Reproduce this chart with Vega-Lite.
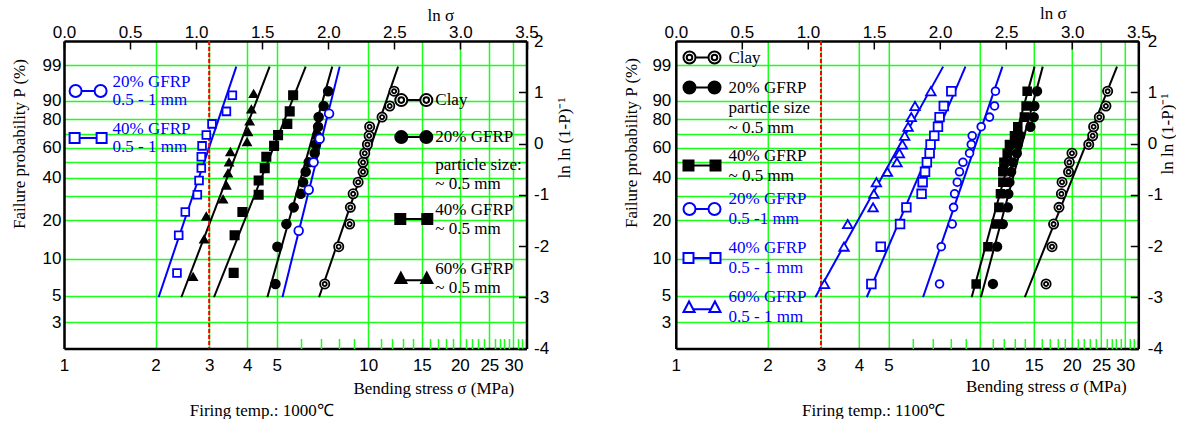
{
"$schema": "https://vega.github.io/schema/vega-lite/v6.json",
"padding": {"left": 10, "top": 4, "right": 0, "bottom": 0},
"bounds": "flush",
"spacing": 148.8,
"config": {
  "view": {"stroke": null},
  "axis": {"labelFont": "Liberation Sans", "labelFontSize": 17, "labelColor": "black", "titleFont": "Liberation Serif", "titleFontSize": 17, "titleFontWeight": "normal", "titleColor": "black", "domainColor": "black", "domainWidth": 2.5, "tickColor": "black", "tickWidth": 1.5, "gridColor": "#1aff1a", "gridWidth": 1.5, "gridOpacity": 1, "labelFlush": false, "labelOverlap": false},
  "legend": {"labelFont": "Liberation Serif", "labelFontSize": 17, "labelLimit": 0, "padding": 0, "symbolStrokeWidth": 2, "titlePadding": 0}
},
"datasets": {
  "pts": [
    {"panel":"L","series":"40% 0.5-1","lns":0.855,"lnln":-2.525},{"panel":"L","series":"40% 0.5-1","lns":0.868,"lnln":-1.790},{"panel":"L","series":"40% 0.5-1","lns":0.918,"lnln":-1.338},{"panel":"L","series":"40% 0.5-1","lns":1.009,"lnln":-1.000},{"panel":"L","series":"40% 0.5-1","lns":1.022,"lnln":-0.723},{"panel":"L","series":"40% 0.5-1","lns":1.039,"lnln":-0.480},{"panel":"L","series":"40% 0.5-1","lns":1.039,"lnln":-0.257},{"panel":"L","series":"40% 0.5-1","lns":1.045,"lnln":-0.046},{"panel":"L","series":"40% 0.5-1","lns":1.077,"lnln":0.164},{"panel":"L","series":"40% 0.5-1","lns":1.120,"lnln":0.383},{"panel":"L","series":"40% 0.5-1","lns":1.229,"lnln":0.627},{"panel":"L","series":"40% 0.5-1","lns":1.274,"lnln":0.942},
    {"panel":"L","series":"60% ~0.5","lns":0.977,"lnln":-2.602},{"panel":"L","series":"60% ~0.5","lns":1.060,"lnln":-1.870},{"panel":"L","series":"60% ~0.5","lns":1.077,"lnln":-1.422},{"panel":"L","series":"60% ~0.5","lns":1.204,"lnln":-1.089},{"panel":"L","series":"60% ~0.5","lns":1.229,"lnln":-0.817},{"panel":"L","series":"60% ~0.5","lns":1.241,"lnln":-0.581},{"panel":"L","series":"60% ~0.5","lns":1.249,"lnln":-0.367},{"panel":"L","series":"60% ~0.5","lns":1.259,"lnln":-0.166},{"panel":"L","series":"60% ~0.5","lns":1.385,"lnln":0.029},{"panel":"L","series":"60% ~0.5","lns":1.393,"lnln":0.225},{"panel":"L","series":"60% ~0.5","lns":1.405,"lnln":0.432},{"panel":"L","series":"60% ~0.5","lns":1.418,"lnln":0.666},{"panel":"L","series":"60% ~0.5","lns":1.435,"lnln":0.970},
    {"panel":"L","series":"40% ~0.5","lns":1.284,"lnln":-2.525},{"panel":"L","series":"40% ~0.5","lns":1.291,"lnln":-1.790},{"panel":"L","series":"40% ~0.5","lns":1.350,"lnln":-1.338},{"panel":"L","series":"40% ~0.5","lns":1.473,"lnln":-1.000},{"panel":"L","series":"40% ~0.5","lns":1.473,"lnln":-0.723},{"panel":"L","series":"40% ~0.5","lns":1.519,"lnln":-0.480},{"panel":"L","series":"40% ~0.5","lns":1.531,"lnln":-0.257},{"panel":"L","series":"40% ~0.5","lns":1.590,"lnln":-0.046},{"panel":"L","series":"40% ~0.5","lns":1.620,"lnln":0.164},{"panel":"L","series":"40% ~0.5","lns":1.690,"lnln":0.383},{"panel":"L","series":"40% ~0.5","lns":1.708,"lnln":0.627},{"panel":"L","series":"40% ~0.5","lns":1.734,"lnln":0.942},
    {"panel":"L","series":"20% ~0.5","lns":1.600,"lnln":-2.741},{"panel":"L","series":"20% ~0.5","lns":1.615,"lnln":-2.013},{"panel":"L","series":"20% ~0.5","lns":1.683,"lnln":-1.572},{"panel":"L","series":"20% ~0.5","lns":1.738,"lnln":-1.246},{"panel":"L","series":"20% ~0.5","lns":1.791,"lnln":-0.982},{"panel":"L","series":"20% ~0.5","lns":1.809,"lnln":-0.755},{"panel":"L","series":"20% ~0.5","lns":1.829,"lnln":-0.553},{"panel":"L","series":"20% ~0.5","lns":1.852,"lnln":-0.367},{"panel":"L","series":"20% ~0.5","lns":1.897,"lnln":-0.190},{"panel":"L","series":"20% ~0.5","lns":1.905,"lnln":-0.019},{"panel":"L","series":"20% ~0.5","lns":1.915,"lnln":0.151},{"panel":"L","series":"20% ~0.5","lns":1.923,"lnln":0.327},{"panel":"L","series":"20% ~0.5","lns":1.927,"lnln":0.515},{"panel":"L","series":"20% ~0.5","lns":1.965,"lnln":0.732},{"panel":"L","series":"20% ~0.5","lns":1.999,"lnln":1.020},
    {"panel":"L","series":"20% 0.5-1","lns":1.776,"lnln":-1.702},{"panel":"L","series":"20% 0.5-1","lns":1.852,"lnln":-0.903},{"panel":"L","series":"20% 0.5-1","lns":1.889,"lnln":-0.367},{"panel":"L","series":"20% 0.5-1","lns":1.935,"lnln":0.094},{"panel":"L","series":"20% 0.5-1","lns":2.006,"lnln":0.583},
    {"panel":"L","series":"Clay","lns":1.973,"lnln":-2.741},{"panel":"L","series":"Clay","lns":2.079,"lnln":-2.013},{"panel":"L","series":"Clay","lns":2.162,"lnln":-1.572},{"panel":"L","series":"Clay","lns":2.167,"lnln":-1.246},{"panel":"L","series":"Clay","lns":2.188,"lnln":-0.982},{"panel":"L","series":"Clay","lns":2.226,"lnln":-0.755},{"panel":"L","series":"Clay","lns":2.263,"lnln":-0.553},{"panel":"L","series":"Clay","lns":2.263,"lnln":-0.367},{"panel":"L","series":"Clay","lns":2.276,"lnln":-0.190},{"panel":"L","series":"Clay","lns":2.296,"lnln":-0.019},{"panel":"L","series":"Clay","lns":2.309,"lnln":0.151},{"panel":"L","series":"Clay","lns":2.313,"lnln":0.327},{"panel":"L","series":"Clay","lns":2.407,"lnln":0.515},{"panel":"L","series":"Clay","lns":2.465,"lnln":0.732},{"panel":"L","series":"Clay","lns":2.498,"lnln":1.020},
    {"panel":"R","series":"60% 0.5-1","lns":1.125,"lnln":-2.741},{"panel":"R","series":"60% 0.5-1","lns":1.273,"lnln":-2.013},{"panel":"R","series":"60% 0.5-1","lns":1.301,"lnln":-1.572},{"panel":"R","series":"60% 0.5-1","lns":1.493,"lnln":-1.246},{"panel":"R","series":"60% 0.5-1","lns":1.499,"lnln":-0.982},{"panel":"R","series":"60% 0.5-1","lns":1.518,"lnln":-0.755},{"panel":"R","series":"60% 0.5-1","lns":1.601,"lnln":-0.553},{"panel":"R","series":"60% 0.5-1","lns":1.674,"lnln":-0.367},{"panel":"R","series":"60% 0.5-1","lns":1.692,"lnln":-0.190},{"panel":"R","series":"60% 0.5-1","lns":1.715,"lnln":-0.019},{"panel":"R","series":"60% 0.5-1","lns":1.732,"lnln":0.151},{"panel":"R","series":"60% 0.5-1","lns":1.758,"lnln":0.327},{"panel":"R","series":"60% 0.5-1","lns":1.782,"lnln":0.515},{"panel":"R","series":"60% 0.5-1","lns":1.810,"lnln":0.732},{"panel":"R","series":"60% 0.5-1","lns":1.930,"lnln":1.020},
    {"panel":"R","series":"40% 0.5-1","lns":1.480,"lnln":-2.741},{"panel":"R","series":"40% 0.5-1","lns":1.551,"lnln":-2.013},{"panel":"R","series":"40% 0.5-1","lns":1.697,"lnln":-1.572},{"panel":"R","series":"40% 0.5-1","lns":1.745,"lnln":-1.246},{"panel":"R","series":"40% 0.5-1","lns":1.860,"lnln":-0.982},{"panel":"R","series":"40% 0.5-1","lns":1.868,"lnln":-0.755},{"panel":"R","series":"40% 0.5-1","lns":1.886,"lnln":-0.553},{"panel":"R","series":"40% 0.5-1","lns":1.900,"lnln":-0.367},{"panel":"R","series":"40% 0.5-1","lns":1.921,"lnln":-0.190},{"panel":"R","series":"40% 0.5-1","lns":1.928,"lnln":-0.019},{"panel":"R","series":"40% 0.5-1","lns":1.956,"lnln":0.151},{"panel":"R","series":"40% 0.5-1","lns":1.984,"lnln":0.327},{"panel":"R","series":"40% 0.5-1","lns":1.996,"lnln":0.515},{"panel":"R","series":"40% 0.5-1","lns":2.028,"lnln":0.732},{"panel":"R","series":"40% 0.5-1","lns":2.085,"lnln":1.020},
    {"panel":"R","series":"20% 0.5-1","lns":1.996,"lnln":-2.741},{"panel":"R","series":"20% 0.5-1","lns":2.009,"lnln":-2.013},{"panel":"R","series":"20% 0.5-1","lns":2.092,"lnln":-1.572},{"panel":"R","series":"20% 0.5-1","lns":2.102,"lnln":-1.246},{"panel":"R","series":"20% 0.5-1","lns":2.110,"lnln":-0.982},{"panel":"R","series":"20% 0.5-1","lns":2.130,"lnln":-0.755},{"panel":"R","series":"20% 0.5-1","lns":2.147,"lnln":-0.553},{"panel":"R","series":"20% 0.5-1","lns":2.173,"lnln":-0.367},{"panel":"R","series":"20% 0.5-1","lns":2.223,"lnln":-0.190},{"panel":"R","series":"20% 0.5-1","lns":2.236,"lnln":-0.019},{"panel":"R","series":"20% 0.5-1","lns":2.243,"lnln":0.151},{"panel":"R","series":"20% 0.5-1","lns":2.311,"lnln":0.327},{"panel":"R","series":"20% 0.5-1","lns":2.374,"lnln":0.515},{"panel":"R","series":"20% 0.5-1","lns":2.412,"lnln":0.732},{"panel":"R","series":"20% 0.5-1","lns":2.419,"lnln":1.020},
    {"panel":"R","series":"40% ~0.5","lns":2.273,"lnln":-2.741},{"panel":"R","series":"40% ~0.5","lns":2.362,"lnln":-2.013},{"panel":"R","series":"40% ~0.5","lns":2.424,"lnln":-1.572},{"panel":"R","series":"40% ~0.5","lns":2.445,"lnln":-1.246},{"panel":"R","series":"40% ~0.5","lns":2.457,"lnln":-0.982},{"panel":"R","series":"40% ~0.5","lns":2.475,"lnln":-0.755},{"panel":"R","series":"40% ~0.5","lns":2.475,"lnln":-0.553},{"panel":"R","series":"40% ~0.5","lns":2.483,"lnln":-0.367},{"panel":"R","series":"40% ~0.5","lns":2.508,"lnln":-0.190},{"panel":"R","series":"40% ~0.5","lns":2.525,"lnln":-0.019},{"panel":"R","series":"40% ~0.5","lns":2.563,"lnln":0.151},{"panel":"R","series":"40% ~0.5","lns":2.588,"lnln":0.327},{"panel":"R","series":"40% ~0.5","lns":2.638,"lnln":0.515},{"panel":"R","series":"40% ~0.5","lns":2.651,"lnln":0.732},{"panel":"R","series":"40% ~0.5","lns":2.659,"lnln":1.020},
    {"panel":"R","series":"20% ~0.5","lns":2.400,"lnln":-2.741},{"panel":"R","series":"20% ~0.5","lns":2.432,"lnln":-2.013},{"panel":"R","series":"20% ~0.5","lns":2.475,"lnln":-1.572},{"panel":"R","series":"20% ~0.5","lns":2.513,"lnln":-1.246},{"panel":"R","series":"20% ~0.5","lns":2.517,"lnln":-0.982},{"panel":"R","series":"20% ~0.5","lns":2.525,"lnln":-0.755},{"panel":"R","series":"20% ~0.5","lns":2.538,"lnln":-0.553},{"panel":"R","series":"20% ~0.5","lns":2.551,"lnln":-0.367},{"panel":"R","series":"20% ~0.5","lns":2.581,"lnln":-0.190},{"panel":"R","series":"20% ~0.5","lns":2.588,"lnln":-0.019},{"panel":"R","series":"20% ~0.5","lns":2.606,"lnln":0.151},{"panel":"R","series":"20% ~0.5","lns":2.684,"lnln":0.327},{"panel":"R","series":"20% ~0.5","lns":2.709,"lnln":0.515},{"panel":"R","series":"20% ~0.5","lns":2.714,"lnln":0.732},{"panel":"R","series":"20% ~0.5","lns":2.734,"lnln":1.020},
    {"panel":"R","series":"Clay","lns":2.802,"lnln":-2.741},{"panel":"R","series":"Clay","lns":2.847,"lnln":-2.013},{"panel":"R","series":"Clay","lns":2.859,"lnln":-1.572},{"panel":"R","series":"Clay","lns":2.900,"lnln":-1.246},{"panel":"R","series":"Clay","lns":2.918,"lnln":-0.982},{"panel":"R","series":"Clay","lns":2.923,"lnln":-0.755},{"panel":"R","series":"Clay","lns":2.972,"lnln":-0.553},{"panel":"R","series":"Clay","lns":2.978,"lnln":-0.367},{"panel":"R","series":"Clay","lns":2.998,"lnln":-0.190},{"panel":"R","series":"Clay","lns":3.125,"lnln":-0.019},{"panel":"R","series":"Clay","lns":3.155,"lnln":0.151},{"panel":"R","series":"Clay","lns":3.162,"lnln":0.327},{"panel":"R","series":"Clay","lns":3.205,"lnln":0.515},{"panel":"R","series":"Clay","lns":3.255,"lnln":0.732},{"panel":"R","series":"Clay","lns":3.268,"lnln":1.020}
  ],
  "fits": [
    {"panel":"L","series":"40% 0.5-1","lns":0.716,"lnln":-3},{"panel":"L","series":"40% 0.5-1","lns":1.304,"lnln":1.5},
    {"panel":"L","series":"60% ~0.5","lns":0.888,"lnln":-3},{"panel":"L","series":"60% ~0.5","lns":1.556,"lnln":1.5},
    {"panel":"L","series":"40% ~0.5","lns":1.135,"lnln":-3},{"panel":"L","series":"40% ~0.5","lns":1.829,"lnln":1.5},
    {"panel":"L","series":"20% ~0.5","lns":1.539,"lnln":-3},{"panel":"L","series":"20% ~0.5","lns":2.030,"lnln":1.5},
    {"panel":"L","series":"20% 0.5-1","lns":1.653,"lnln":-3},{"panel":"L","series":"20% 0.5-1","lns":2.086,"lnln":1.5},
    {"panel":"L","series":"Clay","lns":1.930,"lnln":-3},{"panel":"L","series":"Clay","lns":2.528,"lnln":1.5},
    {"panel":"R","series":"60% 0.5-1","lns":1.056,"lnln":-3},{"panel":"R","series":"60% 0.5-1","lns":2.023,"lnln":1.5},
    {"panel":"R","series":"40% 0.5-1","lns":1.445,"lnln":-3},{"panel":"R","series":"40% 0.5-1","lns":2.192,"lnln":1.5},
    {"panel":"R","series":"20% 0.5-1","lns":1.871,"lnln":-3},{"panel":"R","series":"20% 0.5-1","lns":2.472,"lnln":1.5},
    {"panel":"R","series":"40% ~0.5","lns":2.239,"lnln":-3},{"panel":"R","series":"40% ~0.5","lns":2.715,"lnln":1.5},
    {"panel":"R","series":"20% ~0.5","lns":2.309,"lnln":-3},{"panel":"R","series":"20% ~0.5","lns":2.777,"lnln":1.5},
    {"panel":"R","series":"Clay","lns":2.641,"lnln":-3},{"panel":"R","series":"Clay","lns":3.339,"lnln":1.5}
  ],
  "ref": [{"lns": 1.098612}]
},
"hconcat": [
  {
    "width": 462.5, "height": 307.5,
    "layer": [
      {
        "data": {"name": "fits"},
        "transform": [{"filter": "datum.panel == 'L'"}],
        "mark": {"type": "line", "strokeWidth": 2},
        "encoding": {
          "x": {"field": "lns", "type": "quantitative", "scale": {"domain": [0, 3.5], "nice": false, "zero": false},
                "axis": {"orient": "bottom", "values": [0, 0.693147, 1.098612, 1.386294, 1.609438, 2.302585, 2.70805, 2.995732, 3.218876, 3.401197], "labelExpr": "'' + round(exp(datum.value))", "grid": true, "ticks": false, "labelPadding": 9, "title": "Bending stress  σ  (MPa)", "titleX": 369.3, "titleY": 40, "titleAlign": "center", "titleBaseline": "middle", "titleAngle": 0}},
          "y": {"field": "lnln", "type": "quantitative", "scale": {"domain": [-4, 2], "nice": false, "zero": false},
                "axis": {"orient": "left", "values": [1.52718, 0.834032, 0.475885, 0.185627, -0.087422, -0.366513, -0.671727, -1.03093, -1.49994, -2.250367, -2.970195, -3.491366], "labelExpr": "(datum.value > 0.1 && datum.value < 0.3) || (datum.value > -0.4 && datum.value < -0.3) || (datum.value > -1.1 && datum.value < -0.9) ? '' : '' + round(100 * (1 - exp(-exp(datum.value))))", "grid": true, "ticks": false, "labelPadding": 3, "title": "Failure probability P (%)", "titleX": -44.7, "titleY": 102.5, "titleAngle": 270, "titleAlign": "center", "titleBaseline": "middle"}},
          "color": {"field": "series", "type": "nominal", "scale": {"domain": ["Clay", "20% ~0.5", "40% ~0.5", "60% ~0.5", "20% 0.5-1", "40% 0.5-1", "60% 0.5-1"], "range": ["black", "black", "black", "black", "#0000ff", "#0000ff", "#0000ff"]}, "legend": null},
          "detail": {"field": "series", "type": "nominal"}
        }
      },
      {
        "data": {"name": "ref"},
        "mark": {"type": "rule", "color": "#ff0000", "strokeWidth": 2, "strokeDash": [4, 2]},
        "encoding": {
          "x": {"field": "lns", "type": "quantitative", "scale": {"domain": [0, 3.5], "nice": false, "zero": false},
                "axis": {"orient": "bottom", "values": [1.791759, 1.94591, 2.079442, 2.197225, 2.397895, 2.484907, 2.564949, 2.639057, 2.772589, 2.833213, 2.890372, 2.944439, 3.044522, 3.091042, 3.135494, 3.178054, 3.258097, 3.295837, 3.332205, 3.367296, 3.433987, 3.465736, 3.496508], "labels": false, "grid": false, "domain": false, "ticks": true, "tickSize": -10, "tickColor": "#1aff1a", "tickWidth": 1.5, "title": "Firing temp.: 1000℃", "titleX": 197.3, "titleY": 62, "titleAlign": "center", "titleBaseline": "middle", "titleAngle": 0}}
        }
      },
      {
        "data": {"name": "pts"},
        "transform": [{"filter": "datum.panel == 'L'"}, {"filter": {"field": "series", "oneOf": ["Clay", "20% ~0.5", "40% ~0.5", "60% ~0.5"]}}],
        "mark": {"type": "point", "opacity": 1, "strokeWidth": 1.8, "stroke": "black"},
        "encoding": {
          "x": {"field": "lns", "type": "quantitative", "scale": {"domain": [0, 3.5], "nice": false, "zero": false},
                "axis": {"orient": "top", "values": [0, 0.5, 1, 1.5, 2, 2.5, 3, 3.5], "format": ".1f", "grid": false, "ticks": true, "tickSize": -8, "labelPadding": 8, "title": "ln σ", "titleX": 376.3, "titleY": -25.5, "titleAlign": "center", "titleBaseline": "middle", "titleAngle": 0}},
          "y": {"field": "lnln", "type": "quantitative", "scale": {"domain": [-4, 2], "nice": false, "zero": false},
                "axis": {"orient": "right", "values": [-4, -3, -2, -1, 0, 1, 2], "labelExpr": "'' + datum.value", "grid": false, "ticks": true, "tickSize": -8, "labelPadding": 15, "title": "ln ln (1-P)⁻¹", "titleX": 38, "titleY": 96.5, "titleAngle": 270, "titleAlign": "center", "titleBaseline": "middle"}},
          "shape": {"field": "series", "type": "nominal", "legend": null,
                    "scale": {"domain": ["Clay", "20% ~0.5", "40% ~0.5", "60% ~0.5"], "range": ["M-1,0A1,1,0,1,1,1,0A1,1,0,1,1,-1,0ZM-0.45,0A0.45,0.45,0,1,1,0.45,0A0.45,0.45,0,1,1,-0.45,0Z", "circle", "square", "triangle-up"]}},
          "size": {"field": "series", "type": "nominal", "legend": null, "scale": {"domain": ["Clay", "20% ~0.5", "40% ~0.5", "60% ~0.5"], "range": [85, 60, 50, 75]}},
          "fill": {"field": "series", "type": "nominal",
                   "scale": {"domain": ["Clay", "20% ~0.5", "ps", "40% ~0.5", "60% ~0.5"], "range": ["white", "black", "transparent", "black", "black"]},
                   "legend": {"title": null, "orient": "none", "legendX": 330.3, "legendY": 39.6, "rowPadding": 7, "labelOffset": 2, "symbolSize": 1369, "labelColor": "black",
                               "labelExpr": "datum.value == 'Clay' ? 'Clay' : datum.value == '20% ~0.5' ? '20% GFRP' : datum.value == 'ps' ? ['particle size:', '~ 0.5 mm'] : datum.value == '40% ~0.5' ? ['40% GFRP', '~ 0.5 mm'] : ['60% GFRP', '~ 0.5 mm']",
                               "encoding": {
                                 "symbols": {
                                   "shape": {"value": {"expr": "datum.value == 'Clay' ? 'M-1,0A0.324,0.324,0,1,1,-0.352,0A0.324,0.324,0,1,1,-1,0ZM-0.352,0L0.352,0M0.352,0A0.324,0.324,0,1,1,1,0A0.324,0.324,0,1,1,0.352,0ZM-0.826,0A0.15,0.15,0,1,1,-0.526,0A0.15,0.15,0,1,1,-0.826,0ZM0.526,0A0.15,0.15,0,1,1,0.826,0A0.15,0.15,0,1,1,0.526,0Z' : datum.value == '20% ~0.5' ? 'M-1,0A0.324,0.324,0,1,1,-0.352,0A0.324,0.324,0,1,1,-1,0ZM-0.352,0L0.352,0M0.352,0A0.324,0.324,0,1,1,1,0A0.324,0.324,0,1,1,0.352,0Z' : datum.value == '40% ~0.5' ? 'M-1,-0.27L-0.46,-0.27L-0.46,0.27L-1,0.27ZM-0.46,0L0.46,0M0.46,-0.27L1,-0.27L1,0.27L0.46,0.27ZM0,1.5' : datum.value == '60% ~0.5' ? 'M-1,0.27L-0.7,-0.3L-0.4,0.27ZM-0.479,0.12L0.479,0.12M0.4,0.27L0.7,-0.3L1,0.27Z' : 'M0,0'"}},
                                   "stroke": {"value": {"expr": "datum.value == 'ps' ? 'transparent' : 'black'"}},
                                   "size": {"value": 1369},
                                   "strokeWidth": {"value": 2},
                                   "opacity": {"value": 1}
                                 },
                                 "labels": {"lineHeight": {"value": 19}, "dy": {"value": {"expr": "datum.value == 'ps' ? -9 : (datum.value == '40% ~0.5' || datum.value == '60% ~0.5') ? -9.5 : 0"}}}
                               }}}
        }
      },
      {
        "data": {"name": "pts"},
        "transform": [{"filter": "datum.panel == 'L'"}, {"filter": {"field": "series", "oneOf": ["20% 0.5-1", "40% 0.5-1"]}}],
        "mark": {"type": "point", "opacity": 1, "strokeWidth": 1.8, "stroke": "#0000ff"},
        "encoding": {
          "x": {"field": "lns", "type": "quantitative", "scale": {"domain": [0, 3.5], "nice": false, "zero": false}, "axis": null},
          "y": {"field": "lnln", "type": "quantitative", "scale": {"domain": [-4, 2], "nice": false, "zero": false}, "axis": null},
          "shape": {"field": "series", "type": "nominal", "legend": null, "scale": {"domain": ["40% 0.5-1", "20% 0.5-1"], "range": ["square", "circle"]}},
          "size": {"field": "series", "type": "nominal", "legend": null, "scale": {"domain": ["40% 0.5-1", "20% 0.5-1"], "range": [60, 75]}},
          "fill": {"field": "series", "type": "nominal",
                   "scale": {"domain": ["20% 0.5-1", "40% 0.5-1"], "range": ["white", "white"]},
                   "legend": {"title": null, "orient": "none", "legendX": 4.6, "legendY": 30.5, "rowPadding": 10, "labelOffset": 5, "symbolSize": 1369, "labelColor": "#0000ff",
                               "labelExpr": "datum.value == '20% 0.5-1' ? ['20% GFRP', '0.5 - 1 mm'] : ['40% GFRP', '0.5 - 1 mm']",
                               "encoding": {
                                 "symbols": {
                                   "shape": {"value": {"expr": "datum.value == '20% 0.5-1' ? 'M-1,0A0.324,0.324,0,1,1,-0.352,0A0.324,0.324,0,1,1,-1,0ZM-0.352,0L0.352,0M0.352,0A0.324,0.324,0,1,1,1,0A0.324,0.324,0,1,1,0.352,0Z' : 'M-1,-0.27L-0.46,-0.27L-0.46,0.27L-1,0.27ZM-0.46,0L0.46,0M0.46,-0.27L1,-0.27L1,0.27L0.46,0.27Z'"}},
                                   "stroke": {"value": "#0000ff"},
                                   "size": {"value": 1369},
                                   "strokeWidth": {"value": 2},
                                   "opacity": {"value": 1}
                                 },
                                 "labels": {"lineHeight": {"value": 18}, "dy": {"value": -9}}
                               }}}
        }
      }
    ],
    "resolve": {"scale": {"shape": "independent", "size": "independent", "fill": "independent"}, "axis": {"x": "independent", "y": "independent"}}
  },
  {
    "width": 462.5, "height": 307.5,
    "layer": [
      {
        "data": {"name": "fits"},
        "transform": [{"filter": "datum.panel == 'R'"}],
        "mark": {"type": "line", "strokeWidth": 2},
        "encoding": {
          "x": {"field": "lns", "type": "quantitative", "scale": {"domain": [0, 3.5], "nice": false, "zero": false},
                "axis": {"orient": "bottom", "values": [0, 0.693147, 1.098612, 1.386294, 1.609438, 2.302585, 2.70805, 2.995732, 3.218876, 3.401197], "labelExpr": "'' + round(exp(datum.value))", "grid": true, "ticks": false, "labelPadding": 9, "title": "Bending stress  σ  (MPa)", "titleX": 370, "titleY": 38, "titleAlign": "center", "titleBaseline": "middle", "titleAngle": 0}},
          "y": {"field": "lnln", "type": "quantitative", "scale": {"domain": [-4, 2], "nice": false, "zero": false},
                "axis": {"orient": "left", "values": [1.52718, 0.834032, 0.475885, 0.185627, -0.087422, -0.366513, -0.671727, -1.03093, -1.49994, -2.250367, -2.970195, -3.491366], "labelExpr": "(datum.value > 0.1 && datum.value < 0.3) || (datum.value > -0.4 && datum.value < -0.3) || (datum.value > -1.1 && datum.value < -0.9) ? '' : '' + round(100 * (1 - exp(-exp(datum.value))))", "grid": true, "ticks": false, "labelPadding": 5, "title": "Failure probability P (%)", "titleX": -44, "titleY": 101.5, "titleAngle": 270, "titleAlign": "center", "titleBaseline": "middle"}},
          "color": {"field": "series", "type": "nominal", "scale": {"domain": ["Clay", "20% ~0.5", "40% ~0.5", "60% ~0.5", "20% 0.5-1", "40% 0.5-1", "60% 0.5-1"], "range": ["black", "black", "black", "black", "#0000ff", "#0000ff", "#0000ff"]}, "legend": null},
          "detail": {"field": "series", "type": "nominal"}
        }
      },
      {
        "data": {"name": "ref"},
        "mark": {"type": "rule", "color": "#ff0000", "strokeWidth": 2, "strokeDash": [4, 2]},
        "encoding": {
          "x": {"field": "lns", "type": "quantitative", "scale": {"domain": [0, 3.5], "nice": false, "zero": false},
                "axis": {"orient": "bottom", "values": [1.791759, 1.94591, 2.079442, 2.197225, 2.397895, 2.484907, 2.564949, 2.639057, 2.772589, 2.833213, 2.890372, 2.944439, 3.044522, 3.091042, 3.135494, 3.178054, 3.258097, 3.295837, 3.332205, 3.367296, 3.433987, 3.465736, 3.496508], "labels": false, "grid": false, "domain": false, "ticks": true, "tickSize": -10, "tickColor": "#1aff1a", "tickWidth": 1.5, "title": "Firing temp.: 1100℃", "titleX": 197.5, "titleY": 62, "titleAlign": "center", "titleBaseline": "middle", "titleAngle": 0}}
        }
      },
      {
        "data": {"name": "pts"},
        "transform": [{"filter": "datum.panel == 'R'"}, {"filter": {"field": "series", "oneOf": ["Clay", "20% ~0.5", "40% ~0.5"]}}],
        "mark": {"type": "point", "opacity": 1, "strokeWidth": 1.8, "stroke": "black"},
        "encoding": {
          "x": {"field": "lns", "type": "quantitative", "scale": {"domain": [0, 3.5], "nice": false, "zero": false},
                "axis": {"orient": "top", "values": [0, 0.5, 1, 1.5, 2, 2.5, 3, 3.5], "format": ".1f", "grid": false, "ticks": true, "tickSize": -8, "labelPadding": 8, "title": "ln σ", "titleX": 377, "titleY": -27.5, "titleAlign": "center", "titleBaseline": "middle", "titleAngle": 0}},
          "y": {"field": "lnln", "type": "quantitative", "scale": {"domain": [-4, 2], "nice": false, "zero": false},
                "axis": {"orient": "right", "values": [-4, -3, -2, -1, 0, 1, 2], "labelExpr": "'' + datum.value", "grid": false, "ticks": true, "tickSize": -8, "labelPadding": 17, "title": "ln ln (1-P)⁻¹", "titleX": 29, "titleY": 92.5, "titleAngle": 270, "titleAlign": "center", "titleBaseline": "middle"}},
          "shape": {"field": "series", "type": "nominal", "legend": null,
                    "scale": {"domain": ["Clay", "20% ~0.5", "40% ~0.5"], "range": ["M-1,0A1,1,0,1,1,1,0A1,1,0,1,1,-1,0ZM-0.45,0A0.45,0.45,0,1,1,0.45,0A0.45,0.45,0,1,1,-0.45,0Z", "circle", "square"]}},
          "size": {"field": "series", "type": "nominal", "legend": null, "scale": {"domain": ["Clay", "20% ~0.5", "40% ~0.5"], "range": [85, 60, 50]}},
          "fill": {"field": "series", "type": "nominal",
                   "scale": {"domain": ["Clay", "20% ~0.5", "ps", "40% ~0.5"], "range": ["white", "black", "transparent", "black"]},
                   "legend": {"title": null, "orient": "none", "legendX": 6.7, "legendY": -3, "rowPadding": 0, "labelOffset": 7, "symbolSize": 1369, "labelColor": "black",
                               "labelExpr": "datum.value == 'Clay' ? 'Clay' : datum.value == '20% ~0.5' ? '20% GFRP' : datum.value == 'ps' ? ['particle size', '~ 0.5 mm'] : ['40% GFRP', '~ 0.5 mm']",
                               "encoding": {
                                 "symbols": {
                                   "shape": {"value": {"expr": "datum.value == 'Clay' ? 'M-1,0A0.324,0.324,0,1,1,-0.352,0A0.324,0.324,0,1,1,-1,0ZM-0.352,0L0.352,0M0.352,0A0.324,0.324,0,1,1,1,0A0.324,0.324,0,1,1,0.352,0ZM-0.826,0A0.15,0.15,0,1,1,-0.526,0A0.15,0.15,0,1,1,-0.826,0ZM0.526,0A0.15,0.15,0,1,1,0.826,0A0.15,0.15,0,1,1,0.526,0Z' : datum.value == '20% ~0.5' ? 'M-1,0A0.324,0.324,0,1,1,-0.352,0A0.324,0.324,0,1,1,-1,0ZM-0.352,0L0.352,0M0.352,0A0.324,0.324,0,1,1,1,0A0.324,0.324,0,1,1,0.352,0Z' : datum.value == '40% ~0.5' ? 'M-1,-0.27L-0.46,-0.27L-0.46,0.27L-1,0.27ZM-0.46,0L0.46,0M0.46,-0.27L1,-0.27L1,0.27L0.46,0.27Z' : 'M0,0M0,1.3'"}},
                                   "stroke": {"value": {"expr": "datum.value == 'ps' ? 'transparent' : 'black'"}},
                                   "size": {"value": 1369},
                                   "strokeWidth": {"value": 2},
                                   "opacity": {"value": 1}
                                 },
                                 "labels": {"lineHeight": {"value": 20}, "dy": {"value": {"expr": "datum.value == 'ps' ? -10 : datum.value == '40% ~0.5' ? -10 : 0"}}}
                               }}}
        }
      },
      {
        "data": {"name": "pts"},
        "transform": [{"filter": "datum.panel == 'R'"}, {"filter": {"field": "series", "oneOf": ["20% 0.5-1", "40% 0.5-1", "60% 0.5-1"]}}],
        "mark": {"type": "point", "opacity": 1, "strokeWidth": 1.8, "stroke": "#0000ff"},
        "encoding": {
          "x": {"field": "lns", "type": "quantitative", "scale": {"domain": [0, 3.5], "nice": false, "zero": false}, "axis": null},
          "y": {"field": "lnln", "type": "quantitative", "scale": {"domain": [-4, 2], "nice": false, "zero": false}, "axis": null},
          "shape": {"field": "series", "type": "nominal", "legend": null, "scale": {"domain": ["60% 0.5-1", "40% 0.5-1", "20% 0.5-1"], "range": ["triangle-up", "square", "circle"]}},
          "size": {"field": "series", "type": "nominal", "legend": null, "scale": {"domain": ["60% 0.5-1", "40% 0.5-1", "20% 0.5-1"], "range": [90, 60, 75]}},
          "fill": {"field": "series", "type": "nominal",
                   "scale": {"domain": ["20% 0.5-1", "40% 0.5-1", "60% 0.5-1"], "range": ["white", "white", "white"]},
                   "legend": {"title": null, "orient": "none", "legendX": 6.7, "legendY": 148.5, "rowPadding": 11, "labelOffset": 7, "symbolSize": 1369, "labelColor": "#0000ff",
                               "labelExpr": "datum.value == '20% 0.5-1' ? ['20% GFRP', '0.5 -1 mm'] : datum.value == '40% 0.5-1' ? ['40% GFRP', '0.5 - 1 mm'] : ['60% GFRP', '0.5 - 1 mm']",
                               "encoding": {
                                 "symbols": {
                                   "shape": {"value": {"expr": "datum.value == '20% 0.5-1' ? 'M-1,0A0.324,0.324,0,1,1,-0.352,0A0.324,0.324,0,1,1,-1,0ZM-0.352,0L0.352,0M0.352,0A0.324,0.324,0,1,1,1,0A0.324,0.324,0,1,1,0.352,0Z' : datum.value == '40% 0.5-1' ? 'M-1,-0.27L-0.46,-0.27L-0.46,0.27L-1,0.27ZM-0.46,0L0.46,0M0.46,-0.27L1,-0.27L1,0.27L0.46,0.27Z' : 'M-1,0.27L-0.7,-0.3L-0.4,0.27ZM-0.479,0.12L0.479,0.12M0.4,0.27L0.7,-0.3L1,0.27Z'"}},
                                   "stroke": {"value": "#0000ff"},
                                   "size": {"value": 1369},
                                   "strokeWidth": {"value": 2},
                                   "opacity": {"value": 1}
                                 },
                                 "labels": {"lineHeight": {"value": 20}, "dy": {"value": -10}}
                               }}}
        }
      }
    ],
    "resolve": {"scale": {"shape": "independent", "size": "independent", "fill": "independent"}, "axis": {"x": "independent", "y": "independent"}}
  }
]
}
